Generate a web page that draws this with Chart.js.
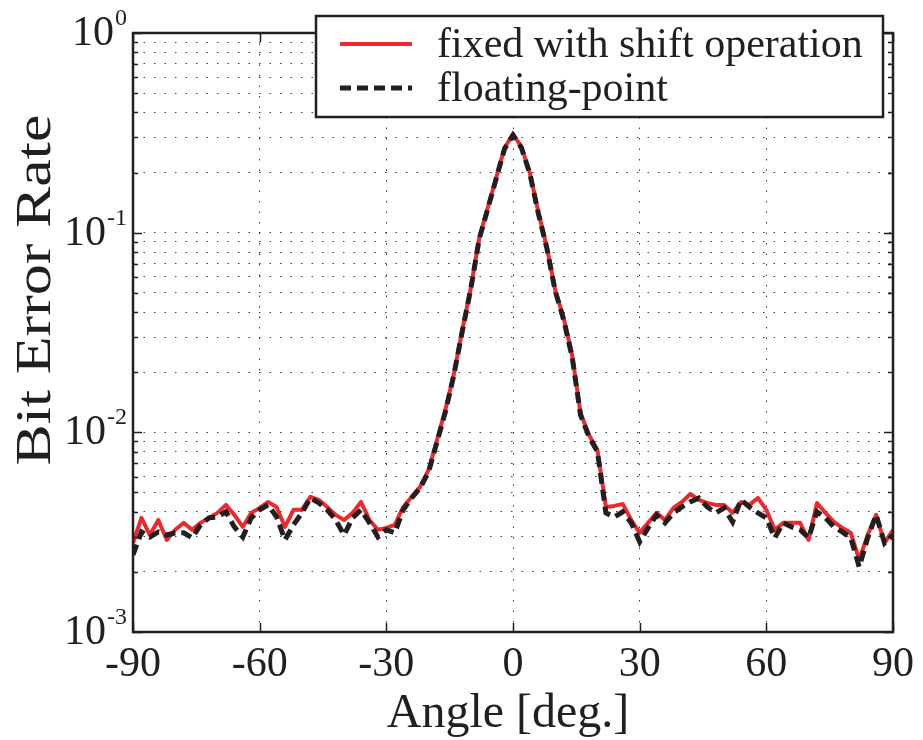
<!DOCTYPE html>
<html>
<head>
<meta charset="utf-8">
<title>Bit Error Rate vs Angle</title>
<script src="https://cdn.jsdelivr.net/npm/chart.js@4.4.1/dist/chart.umd.min.js"></script>
<style>
  html, body { margin: 0; padding: 0; background: #fff; }
</style>
</head>
<body>
<canvas id="ber" width="923" height="740"></canvas>
<script>
/******************************* data ********************************/

const angles = [
  -90, -88, -86, -84, -82, -80, -78, -76, -74, -72,
  -70, -68, -66, -64, -62, -60, -58, -56, -54, -52,
  -50, -48, -46, -44, -42, -40, -38, -36, -34, -32,
  -30, -28, -26, -24, -22, -20, -18, -16, -14, -12,
  -10, -8, -6, -4, -2, 0, 2, 4, 6, 8,
  10, 12, 14, 16, 18, 20, 22, 24, 26, 28,
  30, 32, 34, 36, 38, 40, 42, 44, 46, 48,
  50, 52, 54, 56, 58, 60, 62, 64, 66, 68,
  70, 72, 74, 76, 78, 80, 82, 84, 86, 88,
  90
];

// fixed-point receiver using shift operations
const berFixed = [
  0.00279, 0.00373, 0.00306, 0.00364, 0.00289, 0.00325, 0.00352, 0.00325, 0.00352, 0.00373,
  0.00395, 0.00433, 0.00386, 0.00336, 0.00395, 0.00418, 0.00448, 0.00423, 0.00336, 0.00409,
  0.00409, 0.00475, 0.00459, 0.00423, 0.00386, 0.00364, 0.00395, 0.00448, 0.00364, 0.00325,
  0.00332, 0.00344, 0.00423, 0.00475, 0.00533, 0.00648, 0.00916, 0.0130, 0.0196, 0.0326,
  0.0528, 0.0941, 0.133, 0.188, 0.266, 0.312, 0.269, 0.199, 0.127, 0.0848,
  0.0516, 0.0374, 0.0244, 0.0125, 0.00971, 0.00816, 0.00423, 0.00428, 0.00438, 0.00364,
  0.00314, 0.00352, 0.00395, 0.00364, 0.00418, 0.00448, 0.00491, 0.00459, 0.00443, 0.00433,
  0.00433, 0.00395, 0.00448, 0.00433, 0.00469, 0.00409, 0.00325, 0.00352, 0.00352, 0.00352,
  0.00289, 0.00443, 0.00395, 0.00356, 0.00332, 0.00314, 0.00230, 0.00306, 0.00386, 0.00279,
  0.00325
];

// floating-point reference receiver
const berFloat = [
  0.00243, 0.00317, 0.00299, 0.00317, 0.00306, 0.00314, 0.00314, 0.00296, 0.00344, 0.00373,
  0.00377, 0.00400, 0.00336, 0.00299, 0.00373, 0.00409, 0.00433, 0.00377, 0.00289, 0.00344,
  0.00395, 0.00469, 0.00443, 0.00409, 0.00364, 0.00306, 0.00373, 0.00409, 0.00352, 0.00299,
  0.00325, 0.00314, 0.00409, 0.00469, 0.00527, 0.00633, 0.00895, 0.0127, 0.0194, 0.0322,
  0.0522, 0.0930, 0.131, 0.186, 0.263, 0.308, 0.266, 0.197, 0.125, 0.0839,
  0.0511, 0.0366, 0.0239, 0.0122, 0.00950, 0.00800, 0.00395, 0.00377, 0.00400, 0.00352,
  0.00283, 0.00332, 0.00386, 0.00352, 0.00395, 0.00423, 0.00448, 0.00469, 0.00423, 0.00395,
  0.00418, 0.00356, 0.00459, 0.00423, 0.00395, 0.00373, 0.00296, 0.00352, 0.00336, 0.00325,
  0.00296, 0.00400, 0.00373, 0.00336, 0.00317, 0.00296, 0.00212, 0.00296, 0.00386, 0.00279,
  0.00306
];

const seriesNames = ["fixed with shift operation", "floating-point"];
const xTicks = [-90, -60, -30, 0, 30, 60, 90];
const yExponents = [0, -1, -2, -3];
const xTitle = "Angle [deg.]";
const yTitle = "Bit Error Rate";

/******************************* styles *******************************/

const ink = "#231f20";
const red = "#ec2a2e";
const serif = "'Liberation Serif', 'Times New Roman', serif";
const dashPattern = [11, 6];

const toPoints = (ys) => angles.map((a, i) => ({ x: a, y: ys[i] }));

// log grid: 1..9 times every decade between 1e-3 and 1
function logGridValues() {
  const out = [];
  const lo = Math.min(...yExponents), hi = Math.max(...yExponents);
  for (let e = lo; e < hi; e++) {
    for (let m = 1; m <= 9; m++) out.push(m * Math.pow(10, e));
  }
  out.push(Math.pow(10, hi));
  return out;
}
const isDecade = (v) => Math.abs(Math.log10(v) - Math.round(Math.log10(v))) < 1e-9;

/*************** frame, inward ticks, tick labels, titles, legend ***************/

const decorations = {
  id: "decorations",
  afterDraw(chart) {
    const { ctx, chartArea: a, scales: { x, y } } = chart;
    ctx.save();

    // inward tick marks on all four sides
    ctx.strokeStyle = ink;
    ctx.lineWidth = 1.5;
    ctx.beginPath();
    y.ticks.forEach((t) => {
      const py = Math.round(y.getPixelForValue(t.value)) + 0.5;
      const len = isDecade(t.value) ? 9 : 5;
      ctx.moveTo(a.left, py); ctx.lineTo(a.left + len, py);
      ctx.moveTo(a.right, py); ctx.lineTo(a.right - len, py);
    });
    xTicks.forEach((v) => {
      const px = Math.round(x.getPixelForValue(v)) + 0.5;
      ctx.moveTo(px, a.bottom); ctx.lineTo(px, a.bottom - 9);
      ctx.moveTo(px, a.top); ctx.lineTo(px, a.top + 9);
    });
    ctx.stroke();

    // axes box
    ctx.lineWidth = 2.5;
    ctx.strokeRect(a.left, a.top, a.right - a.left, a.bottom - a.top);

    ctx.fillStyle = ink;
    ctx.textBaseline = "alphabetic";

    // x tick labels
    ctx.font = "42px " + serif;
    ctx.textAlign = "center";
    xTicks.forEach((v) => ctx.fillText(String(v), x.getPixelForValue(v), a.bottom + 44));

    // y tick labels as 10 with a raised exponent
    ctx.textAlign = "right";
    yExponents.forEach((e) => {
      const py = y.getPixelForValue(Math.pow(10, e));
      const expText = String(e);
      ctx.font = "24px " + serif;
      const ew = ctx.measureText(expText).width;
      ctx.fillText(expText, a.left - 6, py - 8);
      ctx.font = "42px " + serif;
      ctx.fillText("10", a.left - 7 - ew, py + 12);
    });

    // axis titles
    ctx.font = "48px " + serif;
    ctx.textAlign = "center";
    ctx.fillText(xTitle, (a.left + a.right) / 2 - 5, 727);

    // y title: long and narrow, reading bottom to top
    ctx.save();
    ctx.translate(50, 290);
    ctx.rotate(-Math.PI / 2);
    ctx.scale(1, 0.83);
    ctx.font = "62px " + serif;
    ctx.fillText(yTitle, 0, 0);
    ctx.restore();

    // legend box
    const bx = 316, by = 16, bw = 567, bh = 101;
    ctx.fillStyle = "#fff";
    ctx.fillRect(bx, by, bw, bh);
    ctx.strokeStyle = ink;
    ctx.lineWidth = 2.5;
    ctx.strokeRect(bx, by, bw, bh);

    const rows = [
      { y: 44, color: red, width: 4, dash: [] },
      { y: 88, color: ink, width: 5, dash: dashPattern }
    ];
    rows.forEach((r, i) => {
      ctx.beginPath();
      ctx.strokeStyle = r.color;
      ctx.lineWidth = r.width;
      ctx.setLineDash(r.dash);
      ctx.moveTo(340, r.y);
      ctx.lineTo(412, r.y);
      ctx.stroke();
      ctx.setLineDash([]);
      ctx.fillStyle = ink;
      ctx.font = "42px " + serif;
      ctx.textAlign = "left";
      ctx.fillText(seriesNames[i], 437, r.y + 13);
    });

    ctx.restore();
  }
};

/******************************* chart *******************************/

const ctx = document.getElementById("ber").getContext("2d");
const berChart = new Chart(ctx, {
  type: "line",
  data: {
    datasets: [
      {
        label: seriesNames[0],
        data: toPoints(berFixed),
        borderColor: red,
        borderWidth: 4,
        borderJoinStyle: "round",
        pointRadius: 0,
        tension: 0,
        order: 2
      },
      {
        label: seriesNames[1],
        data: toPoints(berFloat),
        borderColor: ink,
        borderWidth: 5,
        borderDash: dashPattern,
        pointRadius: 0,
        tension: 0,
        order: 1
      }
    ]
  },
  options: {
    responsive: false,
    animation: false,
    devicePixelRatio: 1,
    layout: { padding: { left: 0, top: 33, right: 30, bottom: 0 } },
    plugins: {
      legend: { display: false },
      tooltip: { enabled: false }
    },
    scales: {
      x: {
        type: "linear",
        min: -90,
        max: 90,
        afterBuildTicks: (s) => { s.ticks = xTicks.map((v) => ({ value: v })); },
        afterFit: (s) => { s.height = 108; },
        ticks: { display: false },
        grid: { color: "#3a3a3a", lineWidth: 1, drawTicks: false },
        border: { display: false, dash: [1.5, 9] }
      },
      y: {
        type: "logarithmic",
        min: 0.001,
        max: 1,
        afterBuildTicks: (s) => { s.ticks = logGridValues().map((v) => ({ value: v })); },
        afterFit: (s) => { s.width = 133; },
        ticks: { display: false },
        grid: { color: "#3a3a3a", lineWidth: 1, drawTicks: false },
        border: { display: false, dash: [1.5, 9] }
      }
    }
  },
  plugins: [decorations]
});
</script>
</body>
</html>
